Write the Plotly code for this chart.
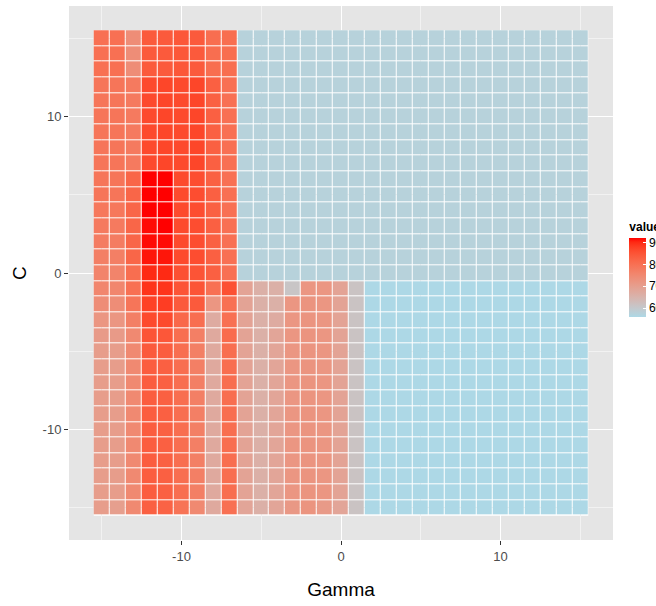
import plotly.graph_objects as go

# Grid of hyper-parameters (log2 scale) and cross-validated accuracy (%)
gamma = list(range(-15, 16))
c_values = list(range(15, -16, -1))

accuracy = [
    # C = 15
    [80, 80, 74, 84, 84, 84.5, 84, 80.5, 80.5, 57.6, 57.6, 57.6, 57.6, 57.6, 57.6, 57.6, 57.6, 57.6, 57.6, 57.6, 57.6, 57.6, 57.6, 57.6, 57.6, 57.6, 57.6, 57.6, 57.6, 57.6, 57.6],
    # C = 14
    [80, 80, 74, 84, 84, 84.5, 84, 80.5, 80.5, 57.6, 57.6, 57.6, 57.6, 57.6, 57.6, 57.6, 57.6, 57.6, 57.6, 57.6, 57.6, 57.6, 57.6, 57.6, 57.6, 57.6, 57.6, 57.6, 57.6, 57.6, 57.6],
    # C = 13
    [80, 80, 74, 84, 84, 84.5, 84, 80.5, 80.5, 57.6, 57.6, 57.6, 57.6, 57.6, 57.6, 57.6, 57.6, 57.6, 57.6, 57.6, 57.6, 57.6, 57.6, 57.6, 57.6, 57.6, 57.6, 57.6, 57.6, 57.6, 57.6],
    # C = 12
    [79, 79, 78, 86.5, 87, 86.5, 87, 83, 80, 57.6, 57.6, 57.6, 57.6, 57.6, 57.6, 57.6, 57.6, 57.6, 57.6, 57.6, 57.6, 57.6, 57.6, 57.6, 57.6, 57.6, 57.6, 57.6, 57.6, 57.6, 57.6],
    # C = 11
    [79, 79, 78, 86.5, 87, 86.5, 87, 83, 80, 57.6, 57.6, 57.6, 57.6, 57.6, 57.6, 57.6, 57.6, 57.6, 57.6, 57.6, 57.6, 57.6, 57.6, 57.6, 57.6, 57.6, 57.6, 57.6, 57.6, 57.6, 57.6],
    # C = 10
    [79, 79, 78, 86.5, 87, 86.5, 87, 83, 80, 57.6, 57.6, 57.6, 57.6, 57.6, 57.6, 57.6, 57.6, 57.6, 57.6, 57.6, 57.6, 57.6, 57.6, 57.6, 57.6, 57.6, 57.6, 57.6, 57.6, 57.6, 57.6],
    # C = 9
    [79, 79, 78, 86.5, 87, 86.5, 87, 83, 80, 57.6, 57.6, 57.6, 57.6, 57.6, 57.6, 57.6, 57.6, 57.6, 57.6, 57.6, 57.6, 57.6, 57.6, 57.6, 57.6, 57.6, 57.6, 57.6, 57.6, 57.6, 57.6],
    # C = 8
    [79, 79, 78, 86.5, 87, 86.5, 87, 83, 80, 57.6, 57.6, 57.6, 57.6, 57.6, 57.6, 57.6, 57.6, 57.6, 57.6, 57.6, 57.6, 57.6, 57.6, 57.6, 57.6, 57.6, 57.6, 57.6, 57.6, 57.6, 57.6],
    # C = 7
    [79, 79, 78, 86.5, 87, 86.5, 87, 83, 80, 57.6, 57.6, 57.6, 57.6, 57.6, 57.6, 57.6, 57.6, 57.6, 57.6, 57.6, 57.6, 57.6, 57.6, 57.6, 57.6, 57.6, 57.6, 57.6, 57.6, 57.6, 57.6],
    # C = 6
    [79, 79, 82, 92, 92, 86.5, 86, 83, 80, 57.6, 57.6, 57.6, 57.6, 57.6, 57.6, 57.6, 57.6, 57.6, 57.6, 57.6, 57.6, 57.6, 57.6, 57.6, 57.6, 57.6, 57.6, 57.6, 57.6, 57.6, 57.6],
    # C = 5
    [79, 79, 82, 92, 92, 86.5, 86, 83, 80, 57.6, 57.6, 57.6, 57.6, 57.6, 57.6, 57.6, 57.6, 57.6, 57.6, 57.6, 57.6, 57.6, 57.6, 57.6, 57.6, 57.6, 57.6, 57.6, 57.6, 57.6, 57.6],
    # C = 4
    [78.5, 78.5, 82, 92, 92, 86.5, 86, 83, 80, 57.6, 57.6, 57.6, 57.6, 57.6, 57.6, 57.6, 57.6, 57.6, 57.6, 57.6, 57.6, 57.6, 57.6, 57.6, 57.6, 57.6, 57.6, 57.6, 57.6, 57.6, 57.6],
    # C = 3
    [78, 78, 82, 91.5, 92, 86.5, 86, 83, 80, 57.6, 57.6, 57.6, 57.6, 57.6, 57.6, 57.6, 57.6, 57.6, 57.6, 57.6, 57.6, 57.6, 57.6, 57.6, 57.6, 57.6, 57.6, 57.6, 57.6, 57.6, 57.6],
    # C = 2
    [77.5, 77.5, 82, 91.5, 91.5, 86.5, 86, 83, 80, 57.6, 57.6, 57.6, 57.6, 57.6, 57.6, 57.6, 57.6, 57.6, 57.6, 57.6, 57.6, 57.6, 57.6, 57.6, 57.6, 57.6, 57.6, 57.6, 57.6, 57.6, 57.6],
    # C = 1
    [77, 77, 82, 91, 91, 86.5, 86, 83, 80, 57.6, 57.6, 57.6, 57.6, 57.6, 57.6, 57.6, 57.6, 57.6, 57.6, 57.6, 57.6, 57.6, 57.6, 57.6, 57.6, 57.6, 57.6, 57.6, 57.6, 57.6, 57.6],
    # C = 0
    [76, 76, 80.5, 90, 90, 85.5, 85, 83, 80, 57.6, 57.6, 57.6, 57.6, 57.6, 57.6, 57.6, 57.6, 57.6, 57.6, 57.6, 57.6, 57.6, 57.6, 57.6, 57.6, 57.6, 57.6, 57.6, 57.6, 57.6, 57.6],
    # C = -1
    [75.5, 75.5, 80, 89, 89, 85, 85, 80, 85.5, 69, 66, 66, 61, 72, 72, 69, 61.5, 56, 56, 56, 56, 56, 56, 56, 56, 56, 56, 56, 56, 56, 56],
    # C = -2
    [74, 74, 79, 87.5, 88, 84, 84, 72, 80, 69, 66, 66, 72, 72.5, 72, 69, 61.5, 56, 56, 56, 56, 56, 56, 56, 56, 56, 56, 56, 56, 56, 56],
    # C = -3
    [72, 72, 77, 86.5, 86.5, 81.5, 80.5, 67, 80, 69, 66, 67, 72, 72.5, 72, 69, 61.5, 56, 56, 56, 56, 56, 56, 56, 56, 56, 56, 56, 56, 56, 56],
    # C = -4
    [71, 71, 75, 85, 84.5, 80.5, 77, 67.5, 81, 69, 66, 68.5, 72, 72.5, 72, 69, 61.5, 56, 56, 56, 56, 56, 56, 56, 56, 56, 56, 56, 56, 56, 56],
    # C = -5
    [70.5, 70.5, 75, 84, 83.5, 80.5, 77, 67.5, 80.5, 69, 66, 68.5, 72, 72.5, 72, 69, 61.5, 56, 56, 56, 56, 56, 56, 56, 56, 56, 56, 56, 56, 56, 56],
    # C = -6
    [70.5, 70.5, 75, 83.5, 83, 80.5, 77, 67.5, 80.5, 69, 66, 68.5, 72, 72.5, 72, 69, 61.5, 56, 56, 56, 56, 56, 56, 56, 56, 56, 56, 56, 56, 56, 56],
    # C = -7
    [70.5, 70.5, 75, 83.5, 83, 80.5, 77, 67.5, 80.5, 69, 66, 68.5, 72, 72.5, 72, 69, 61.5, 56, 56, 56, 56, 56, 56, 56, 56, 56, 56, 56, 56, 56, 56],
    # C = -8
    [70.5, 70.5, 75, 83.5, 83, 80.5, 77, 67.5, 80.5, 69, 66, 68.5, 72, 72.5, 72, 69, 61.5, 56, 56, 56, 56, 56, 56, 56, 56, 56, 56, 56, 56, 56, 56],
    # C = -9
    [70.5, 70.5, 75, 83.5, 83, 80.5, 77, 67.5, 80.5, 69, 66, 68.5, 72, 72.5, 72, 69, 61.5, 56, 56, 56, 56, 56, 56, 56, 56, 56, 56, 56, 56, 56, 56],
    # C = -10
    [70.5, 70.5, 75, 83.5, 83, 80.5, 77, 67.5, 80.5, 69, 66, 68.5, 72, 72.5, 72, 69, 61.5, 56, 56, 56, 56, 56, 56, 56, 56, 56, 56, 56, 56, 56, 56],
    # C = -11
    [70.5, 70.5, 75, 83.5, 83, 80.5, 77, 67.5, 80.5, 69, 66, 68.5, 72, 72.5, 72, 69, 61.5, 56, 56, 56, 56, 56, 56, 56, 56, 56, 56, 56, 56, 56, 56],
    # C = -12
    [70.5, 70.5, 75, 83.5, 83, 80.5, 77, 67.5, 80.5, 69, 66, 68.5, 72, 72.5, 72, 69, 61.5, 56, 56, 56, 56, 56, 56, 56, 56, 56, 56, 56, 56, 56, 56],
    # C = -13
    [70.5, 70.5, 75, 83.5, 83, 80.5, 77, 67.5, 80.5, 69, 66, 68.5, 72, 72.5, 72, 69, 61.5, 56, 56, 56, 56, 56, 56, 56, 56, 56, 56, 56, 56, 56, 56],
    # C = -14
    [70.5, 70.5, 75, 83.5, 83, 80.5, 77, 67.5, 80.5, 69, 66, 68.5, 72, 72.5, 72, 69, 61.5, 56, 56, 56, 56, 56, 56, 56, 56, 56, 56, 56, 56, 56, 56],
    # C = -15
    [70.5, 70, 75, 83, 82.5, 79.5, 75, 67.5, 80, 68.5, 66, 68.5, 71.5, 72.5, 71, 68.5, 61.5, 56, 56, 56, 56, 56, 56, 56, 56, 56, 56, 56, 56, 56, 56],
]

axis_ticks = [-10, 0, 10]
axis_tick_labels = ["-10", "0", "10"]
legend_ticks = [60, 70, 80, 90]
low_colour = (173, 216, 230)   # lightblue
high_colour = (255, 0, 0)      # red

FONT = "Liberation Sans, Arial, sans-serif"


# --- gradient interpolated in CIELAB, as a sequential fill scale does ---
def _lin(c):
    c = c / 255.0
    return c / 12.92 if c <= 0.04045 else ((c + 0.055) / 1.055) ** 2.4


def _gam(c):
    c = 12.92 * c if c <= 0.0031308 else 1.055 * c ** (1 / 2.4) - 0.055
    return max(0, min(255, round(c * 255)))


WHITE = (0.95047, 1.0, 1.08883)


def rgb_to_lab(rgb):
    r, g, b = (_lin(v) for v in rgb)
    x = 0.4124 * r + 0.3576 * g + 0.1805 * b
    y = 0.2126 * r + 0.7152 * g + 0.0722 * b
    z = 0.0193 * r + 0.1192 * g + 0.9505 * b

    def f(t):
        return t ** (1 / 3) if t > (6 / 29) ** 3 else t / (3 * (6 / 29) ** 2) + 4 / 29

    fx, fy, fz = f(x / WHITE[0]), f(y / WHITE[1]), f(z / WHITE[2])
    return 116 * fy - 16, 500 * (fx - fy), 200 * (fy - fz)


def lab_to_rgb(lab):
    L, a, b = lab
    fy = (L + 16) / 116
    fx = fy + a / 500
    fz = fy - b / 200

    def finv(t):
        return t ** 3 if t > 6 / 29 else 3 * (6 / 29) ** 2 * (t - 4 / 29)

    x, y, z = WHITE[0] * finv(fx), WHITE[1] * finv(fy), WHITE[2] * finv(fz)
    r = 3.2406 * x - 1.5372 * y - 0.4986 * z
    g = -0.9689 * x + 1.8758 * y + 0.0415 * z
    bb = 0.0557 * x - 0.2040 * y + 1.0570 * z
    return tuple(_gam(v) for v in (r, g, bb))


lab_lo, lab_hi = rgb_to_lab(low_colour), rgb_to_lab(high_colour)
n_stops = 21
colorscale = []
for i in range(n_stops):
    t = i / (n_stops - 1)
    lab = tuple(lo + (hi - lo) * t for lo, hi in zip(lab_lo, lab_hi))
    r, g, b = lab_to_rgb(lab)
    colorscale.append([t, f"rgb({r},{g},{b})"])

half = 0.5
pad = 0.05 * (max(gamma) - min(gamma) + 1)
x_range = [min(gamma) - half - pad, max(gamma) + half + pad]
y_range = [min(c_values) - half - pad, max(c_values) + half + pad]

fig = go.Figure()

fig.add_trace(go.Heatmap(
    x=gamma,
    y=c_values,
    z=accuracy,
    colorscale=colorscale,
    xgap=1,
    ygap=1,
    colorbar=dict(
        title=dict(text="<b>value</b>", side="top",
                   font=dict(family=FONT, size=12, color="#000000")),
        tickvals=legend_ticks,
        ticktext=[str(v) for v in legend_ticks],
        ticks="inside",
        ticklen=3,
        tickcolor="white",
        tickwidth=1,
        tickfont=dict(family=FONT, size=12, color="#000000"),
        thickness=17,
        thicknessmode="pixels",
        len=98,
        lenmode="pixels",
        x=1.03,
        xanchor="left",
        y=0.4176,
        yanchor="bottom",
        outlinewidth=0,
        xpad=0,
        ypad=0,
    ),
    hovertemplate="Gamma %{x}<br>C %{y}<br>value %{z}<extra></extra>",
))

# white backing under the tiles so the tile borders read as white lines
fig.add_shape(
    type="rect", xref="x", yref="y", layer="below",
    x0=min(gamma) - half, x1=max(gamma) + half,
    y0=min(c_values) - half, y1=max(c_values) + half,
    fillcolor="white", line=dict(width=0),
)

axis_common = dict(
    showline=False,
    zeroline=False,
    showgrid=True,
    gridcolor="white",
    gridwidth=1.3,
    ticks="outside",
    ticklen=4,
    tickwidth=1,
    tickcolor="#333333",
    tickfont=dict(family=FONT, size=13, color="#4D4D4D"),
    tickmode="array",
    tickvals=axis_ticks,
    ticktext=axis_tick_labels,
    minor=dict(tick0=-15, dtick=5, showgrid=True, gridcolor="#F2F2F2", gridwidth=0.7, ticks=""),
)

fig.update_xaxes(
    range=x_range,
    title=dict(text="Gamma", font=dict(family=FONT, size=19, color="#000000"), standoff=20),
    **axis_common,
)
fig.update_yaxes(
    range=y_range,
    title=dict(text="C", font=dict(family=FONT, size=19, color="#000000"), standoff=10),
    **axis_common,
)

fig.update_layout(
    width=656,
    height=606,
    margin=dict(l=69, r=43, t=6, b=66, autoexpand=False),
    paper_bgcolor="white",
    plot_bgcolor="#E5E5E5",
    showlegend=False,
)

fig.write_html("out.html")
